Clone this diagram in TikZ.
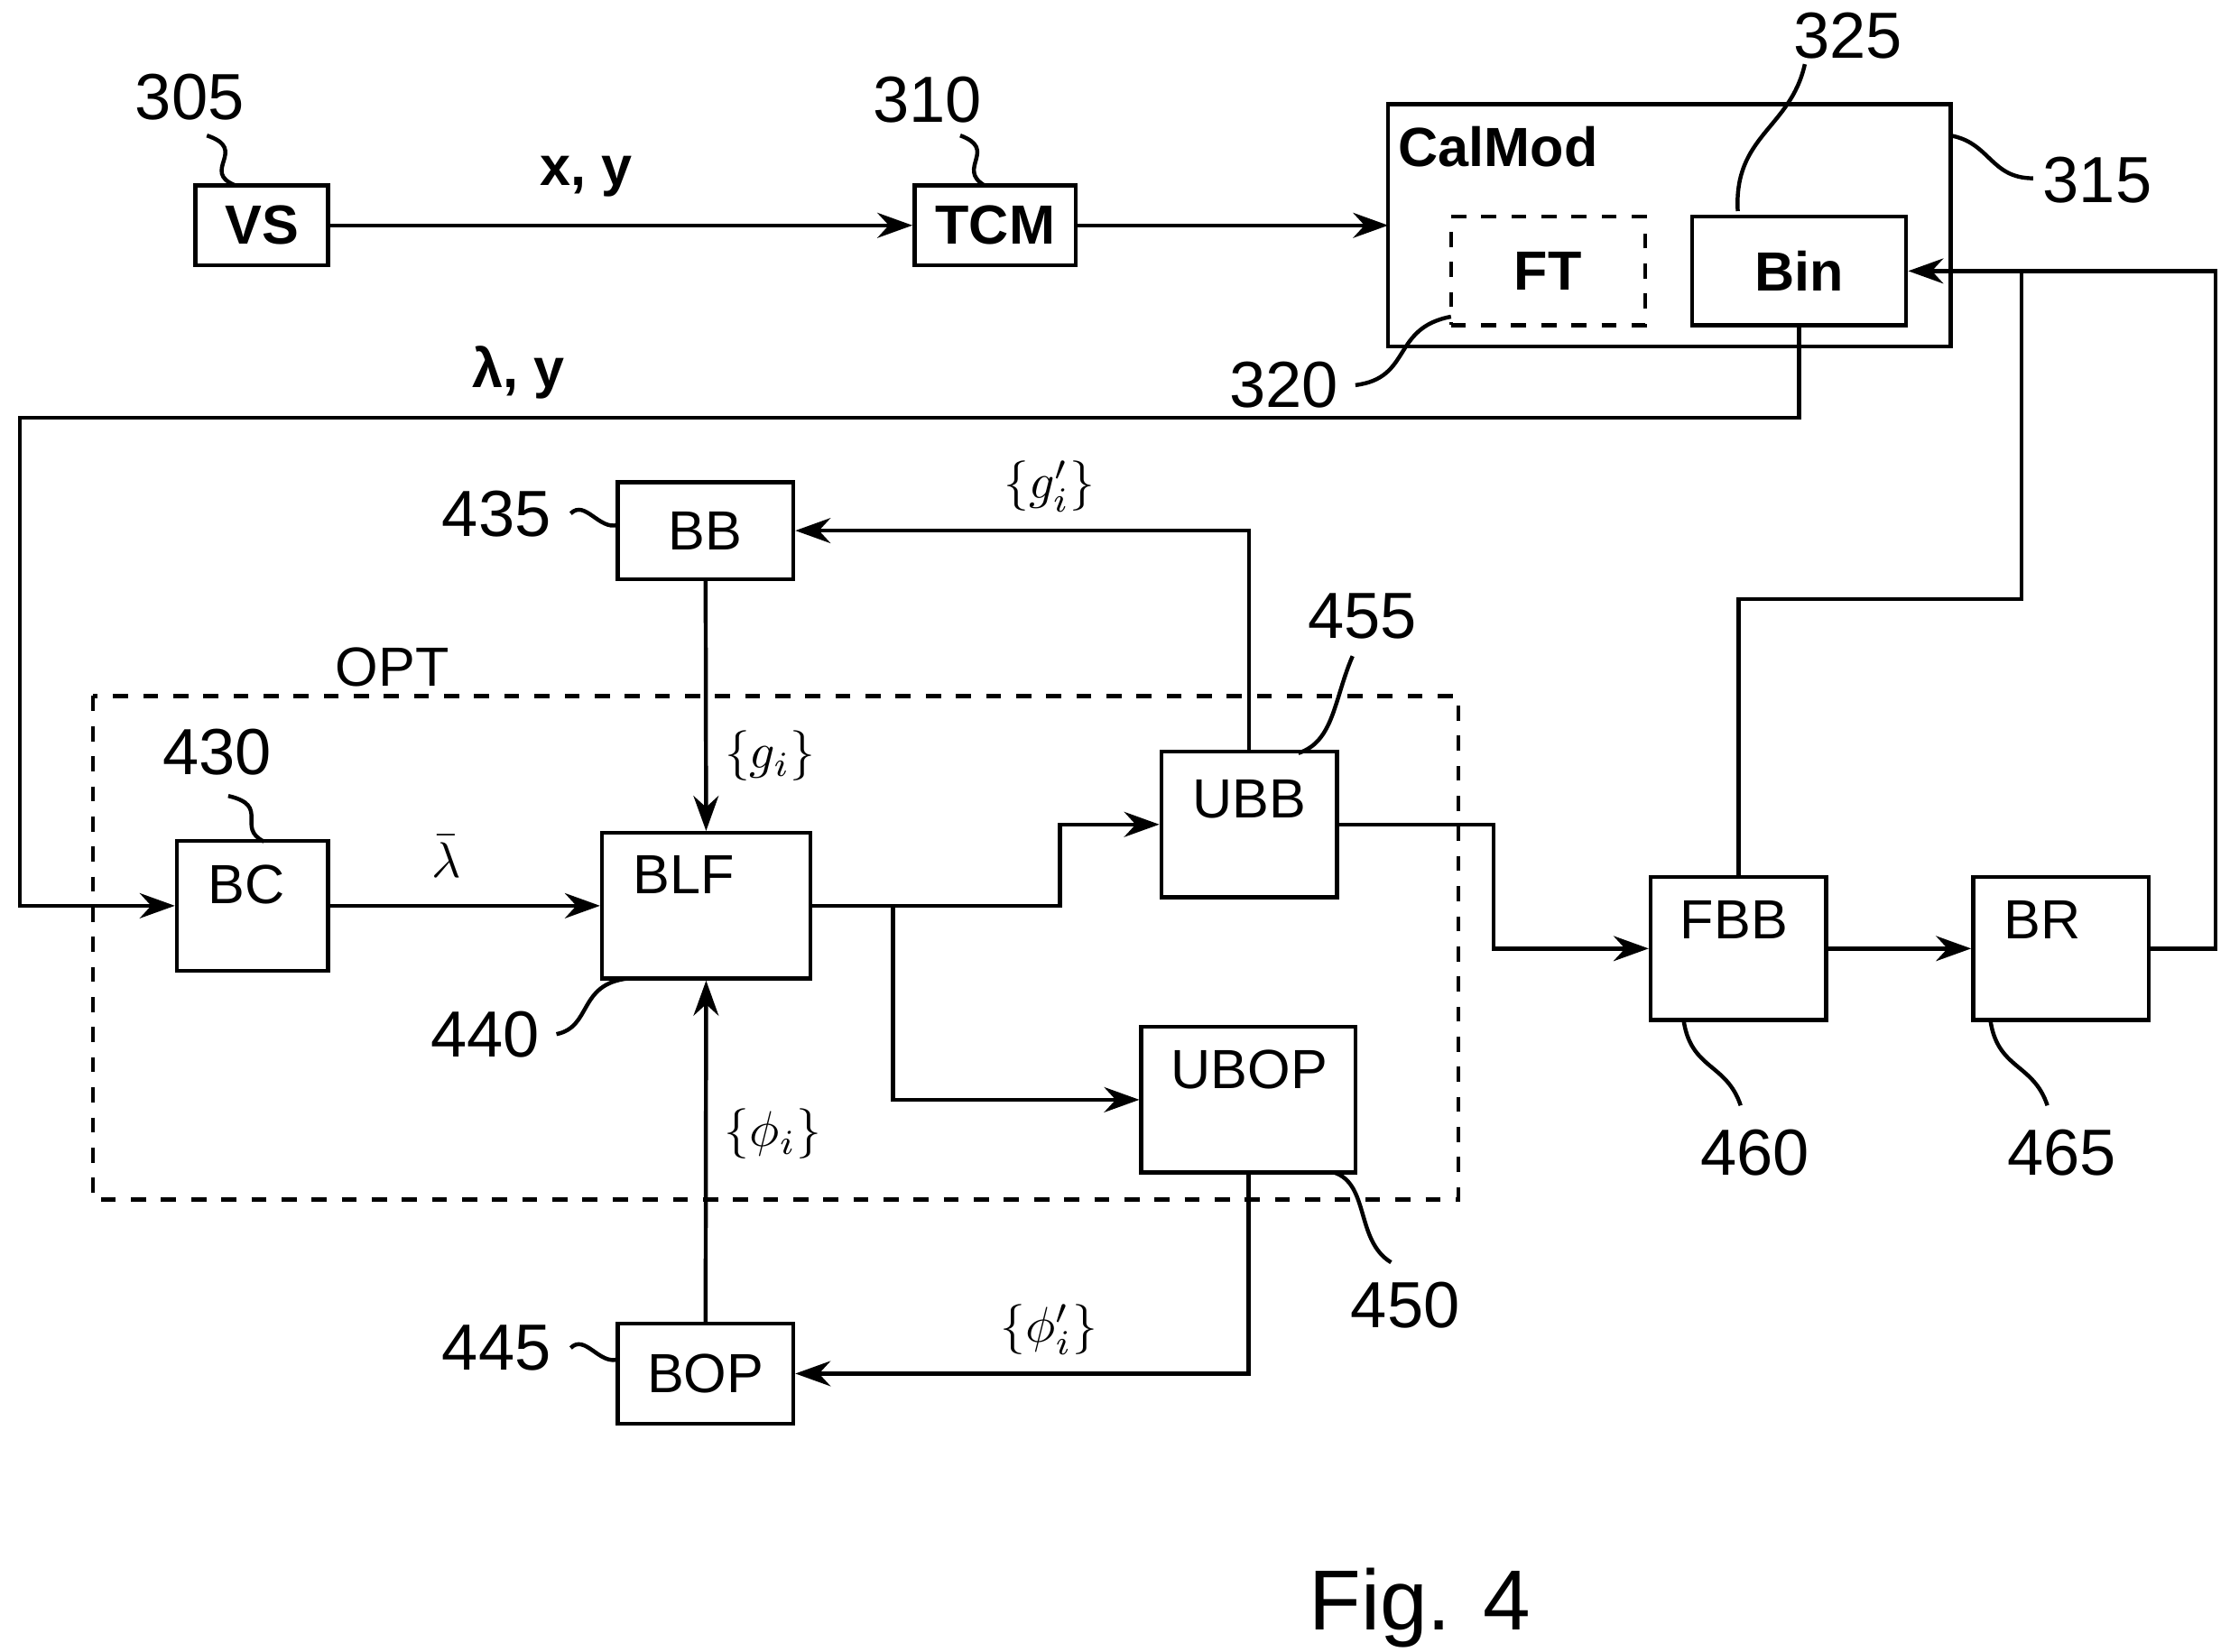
\documentclass[tikz,border=0pt]{standalone}
\usepackage{fontspec}
\setmainfont{Liberation Sans}
\usetikzlibrary{arrows.meta}
\tikzset{
  box/.style={draw, line width=0.8pt, inner sep=0pt},
  bbox/.style={box, font=\bfseries\fontsize{11}{13}\selectfont},
  tbox/.style={box, font=\fontsize{11}{13}\selectfont},
  num/.style={font=\fontsize{13}{15}\selectfont},
  lab/.style={font=\fontsize{11}{13}\selectfont, anchor=west, inner sep=0pt},
  flow/.style={line width=0.8pt, -{Stealth[length=7pt,width=5pt]}},
  wire/.style={line width=0.8pt},
  squig/.style={line width=0.8pt},
}
\begin{document}
\begin{tikzpicture}[x=0.01cm, y=-0.01cm]
\useasboundingbox (0,0) rectangle (1563,1158);
% top row
\node[bbox, minimum width=0.93cm, minimum height=0.56cm] (vs) at (183.5,158) {VS};
\node[bbox, minimum width=1.13cm, minimum height=0.56cm] (tcm) at (697.5,158) {TCM};
\node[box, minimum width=3.94cm, minimum height=1.70cm] (cal) at (1170,158) {};
\node[font=\bfseries\fontsize{11}{13}\selectfont] (caltxt) at (1050,103) {CalMod};
\node[bbox, dashed, minimum width=1.36cm, minimum height=0.76cm] (ft) at (1085,190) {FT};
\node[bbox, minimum width=1.50cm, minimum height=0.76cm] (bin) at (1261,190) {Bin};
% numbers
\node[num] (n305) at (133,68) {305};
\node[num] (n310) at (650,70) {310};
\node[num] (n315) at (1470,126) {315};
\node[num] (n325) at (1295,25) {325};
\node[num] (n320) at (900,270) {320};
\draw[squig] (145,95) .. controls (175,105) and (140,120) .. (165,130);
\draw[squig] (673,95) .. controls (700,105) and (670,118) .. (690,130);
\draw[squig] (1367,95) .. controls (1395,100) and (1395,125) .. (1425,125);
\draw[squig] (1218,148) .. controls (1215,95) and (1255,90) .. (1265,45);
\draw[squig] (950,270) .. controls (990,265) and (975,230) .. (1017,222);
% OPT
\draw[line width=0.8pt, dashed] (65,488) rectangle (1022,841);
\node[font=\fontsize{11}{13}\selectfont] (opt) at (275,468) {OPT};
\node[tbox, minimum width=1.06cm, minimum height=0.91cm] (bc) at (177,635) {};
\node[tbox, minimum width=1.46cm, minimum height=1.02cm] (blf) at (495,635) {};
\node[tbox, minimum width=1.23cm, minimum height=0.68cm] (bb) at (494.5,372) {BB};
\node[tbox, minimum width=1.23cm, minimum height=0.70cm] (bop) at (494.5,963) {BOP};
\node[tbox, minimum width=1.23cm, minimum height=1.02cm] (ubb) at (875.5,578) {};
\node[tbox, minimum width=1.50cm, minimum height=1.02cm] (ubop) at (875,771) {};
\node[tbox, minimum width=1.23cm, minimum height=1.00cm] (fbb) at (1218.5,665) {};
\node[tbox, minimum width=1.23cm, minimum height=1.00cm] (br) at (1444.5,665) {};
\node[lab] (bctxt) at (145,620) {BC};
\node[lab] (blftxt) at (443,613) {BLF};
\node[lab] (ubbtxt) at (835,560) {UBB};
\node[lab] (uboptxt) at (820,750) {UBOP};
\node[lab] (fbbtxt) at (1177,645) {FBB};
\node[lab] (brtxt) at (1404,645) {BR};
\node[num] (n430) at (152,527) {430};
\node[num] (n435) at (348,360) {435};
\node[num] (n440) at (340,725) {440};
\node[num] (n445) at (348,945) {445};
\node[num] (n450) at (985,915) {450};
\node[num] (n455) at (955,432) {455};
\node[num] (n460) at (1230,808) {460};
\node[num] (n465) at (1445,808) {465};
\draw[squig] (160,558) .. controls (190,565) and (165,580) .. (185,590);
\draw[squig] (400,360) .. controls (410,350) and (420,372) .. (433,368);
\draw[squig] (390,725) .. controls (415,720) and (405,690) .. (440,686);
\draw[squig] (400,945) .. controls (410,935) and (420,957) .. (433,953);
\draw[squig] (935,822) .. controls (960,830) and (950,870) .. (975,885);
\draw[squig] (910,528) .. controls (935,520) and (935,490) .. (948,460);
\draw[squig] (1180,715) .. controls (1185,750) and (1210,745) .. (1220,775);
\draw[squig] (1395,715) .. controls (1400,750) and (1425,745) .. (1435,775);
% connectors
\draw[flow] (vs) -- node[above, font=\bfseries\fontsize{11}{13}\selectfont, pos=0.44, yshift=2pt] {x, y} (tcm);
\draw[flow] (tcm) -- (973,158);
\draw[flow] (bin.south) |- (14,293) node[pos=0.86, above, font=\bfseries\fontsize{11}{13}\selectfont] {λ, y} |- (bc.west);
\draw[flow] (bc) -- node[above, pos=0.43, yshift=2pt] {$\bar\lambda$} (blf);
\draw[flow] (bb) -- node[right, pos=0.7] {$\{g_i\}$} (blf);
\draw[flow] (bop) -- node[right, pos=0.55] {$\{\phi_i\}$} (blf);
\draw[flow] (blf.east) -- (743,635) |- (ubb.west);
\draw[flow] (626,635) |- (ubop.west);
\draw[flow] (ubb.north) |- node[pos=0.72, above] {$\{g'_i\}$} (bb.east);
\draw[flow] (ubop.south) |- node[pos=0.72, above] {$\{\phi'_i\}$} (bop.east);
\draw[flow] (ubb.east) -| (1047,665) -- (fbb.west);
\draw[flow] (fbb) -- (br);
\draw[flow] (br.east) -| (1553,190) -- (bin.east);
\draw[wire] (fbb.north) |- (1417,420) -- (1417,190);
\node[font=\fontsize{17}{19}\selectfont] (fig) at (995,1127) {Fig. 4};
\end{tikzpicture}
\end{document}
